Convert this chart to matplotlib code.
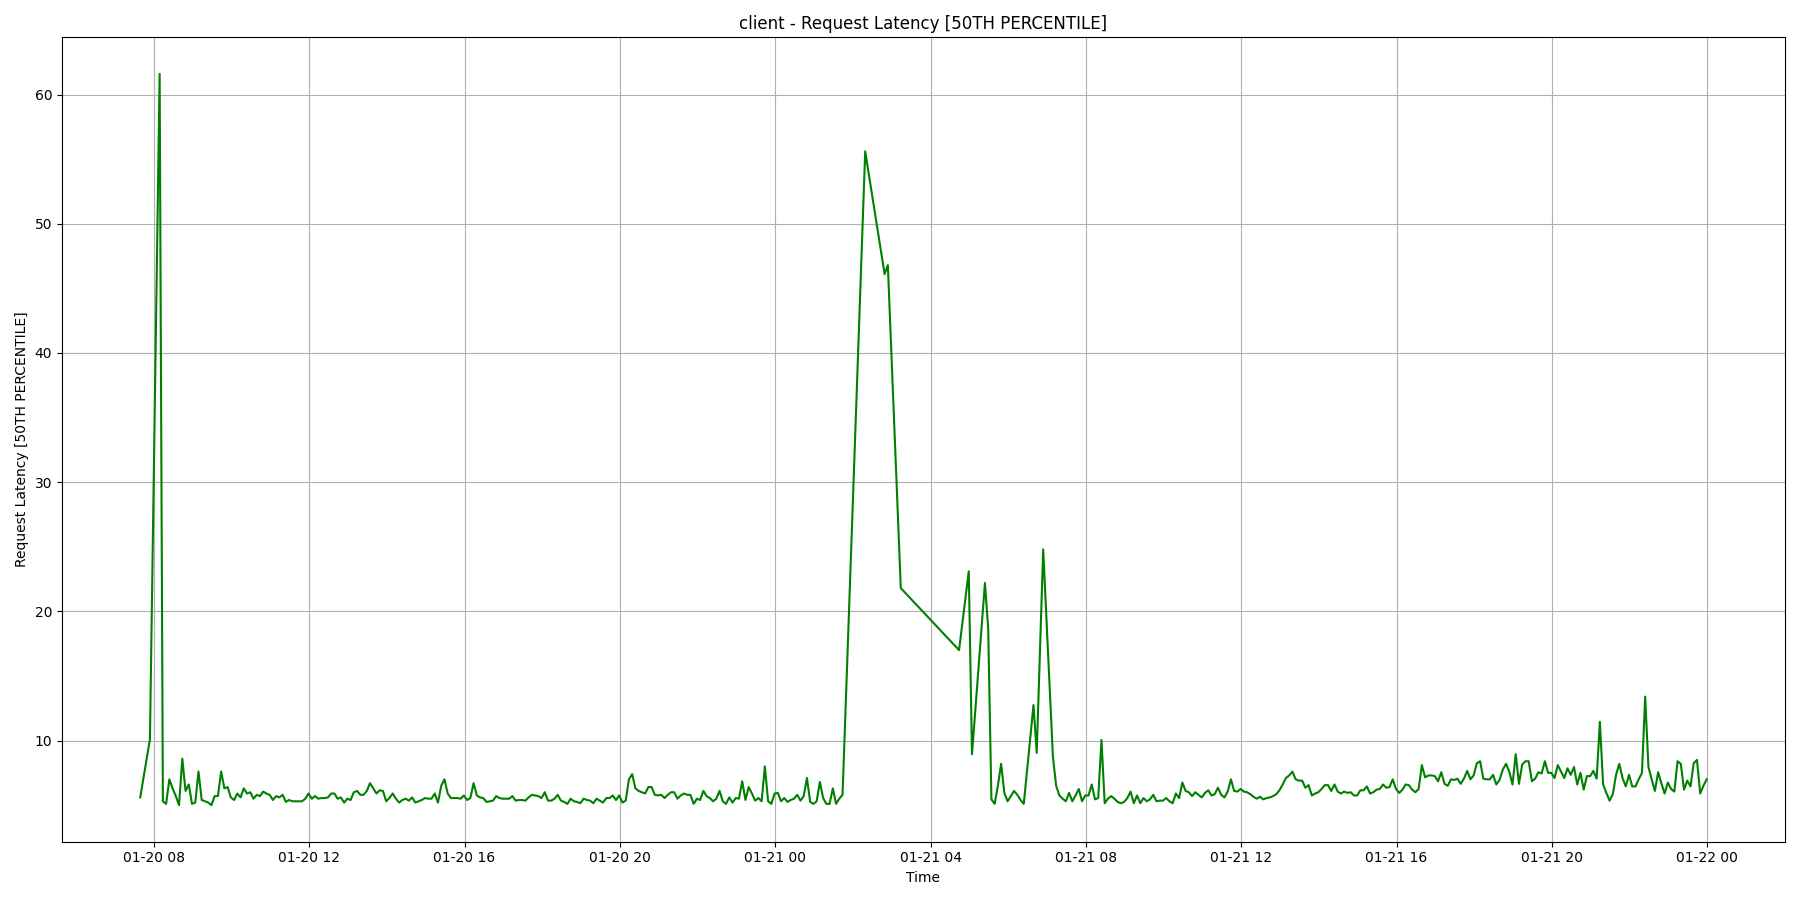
import datetime as dt

import matplotlib

matplotlib.use("Agg")
import matplotlib.dates as mdates
import matplotlib.pyplot as plt

# samples every 5 minutes starting 01-20 07:39; None = no sample (line bridges the gap)
START = dt.datetime(2024, 1, 20, 7, 39)
STEP_MIN = 5
NA = None

# 01-20 07:39 .. 23:59
latency_0120 = [
    5.6, NA, NA, 10.1, NA, NA, 61.6, 5.3, 5.1, 7.0,
    6.3, 5.7, 5.0, 8.6, 6.1, 6.6, 5.1, 5.2, 7.6, 5.4,
    5.3, 5.2, 5.0, 5.7, 5.7, 7.6, 6.3, 6.4, 5.6, 5.4,
    5.9, 5.6, 6.3, 5.9, 6.0, 5.5, 5.8, 5.7, 6.05, 5.9,
    5.8, 5.4, 5.7, 5.6, 5.8, 5.25, 5.4, 5.3, 5.3, 5.3,
    5.3, 5.5, 5.9, 5.5, 5.7, 5.5, 5.55, 5.55, 5.6, 5.9,
    5.9, 5.5, 5.6, 5.2, 5.5, 5.4, 6.0, 6.1, 5.8, 5.8,
    6.1, 6.7, 6.3, 5.9, 6.15, 6.1, 5.3, 5.55, 5.9, 5.5,
    5.2, 5.4, 5.5, 5.35, 5.6, 5.2, 5.3, 5.4, 5.55, 5.5,
    5.5, 5.9, 5.2, 6.5, 7.0, 5.9, 5.55, 5.55, 5.55, 5.5,
    5.75, 5.4, 5.55, 6.7, 5.75, 5.6, 5.55, 5.25, 5.3, 5.35,
    5.7, 5.55, 5.5, 5.5, 5.5, 5.7, 5.35, 5.4, 5.4, 5.35,
    5.6, 5.8, 5.75, 5.7, 5.55, 6.0, 5.35, 5.35, 5.5, 5.8,
    5.35, 5.25, 5.1, 5.5, 5.3, 5.25, 5.15, 5.5, 5.4, 5.35,
    5.15, 5.5, 5.35, 5.2, 5.55, 5.55, 5.75, 5.4, 5.75, 5.2,
    5.35, 7.0, 7.4, 6.3, 6.1, 6.0, 5.9, 6.4, 6.4, 5.8,
    5.75, 5.8, 5.55, 5.8, 6.0, 6.0, 5.5, 5.75, 5.9, 5.8,
    5.8, 5.1, 5.5, 5.4, 6.1, 5.7, 5.55, 5.3, 5.5, 6.1,
    5.3, 5.1, 5.6, 5.2, 5.55, 5.5, 6.85, 5.4, 6.4, 5.9,
    5.35, 5.55, 5.3, 8.0, 5.3, 5.1, 5.9,
]

# 01-21 00:04 .. 23:59
latency_0121 = [
    5.95, 5.3, 5.55,
    5.25, 5.4, 5.5, 5.8, 5.35, 5.7, 7.1, 5.25, 5.1, 5.3,
    6.8, 5.55, 5.1, 5.1, 6.3, 5.1, 5.5, 5.8, NA, NA,
    NA, NA, NA, NA, 55.6, NA, NA, NA, NA, NA,
    46.1, 46.8, NA, NA, NA, 21.8, NA, NA, NA, NA,
    NA, NA, NA, NA, NA, NA, NA, NA, NA, NA,
    NA, NA, NA, 17.0, NA, NA, 23.1, 8.95, NA, NA,
    NA, 22.2, 18.7, 5.45, 5.1, 6.5, 8.2, 5.95, 5.3, 5.7,
    6.1, 5.8, 5.4, 5.1, NA, NA, 12.75, 9.05, NA, 24.8,
    NA, NA, 8.75, 6.5, 5.75, 5.5, 5.3, 5.95, 5.3, 5.75,
    6.25, 5.3, 5.75, 5.75, 6.6, 5.45, 5.55, 10.05, 5.15, 5.5,
    5.7, 5.5, 5.25, 5.15, 5.25, 5.55, 6.05, 5.15, 5.75, 5.15,
    5.55, 5.3, 5.45, 5.8, 5.3, 5.35, 5.35, 5.55, 5.3, 5.15,
    5.9, 5.55, 6.75, 6.1, 6.0, 5.7, 6.0, 5.8, 5.6, 5.95,
    6.15, 5.75, 5.85, 6.35, 5.8, 5.6, 6.05, 7.0, 6.1, 6.05,
    6.25, 6.05, 6.0, 5.85, 5.65, 5.5, 5.65, 5.45, 5.55, 5.6,
    5.7, 5.85, 6.15, 6.6, 7.1, 7.3, 7.6, 7.0, 6.9, 6.9,
    6.35, 6.55, 5.75, 5.9, 6.0, 6.25, 6.55, 6.55, 6.1, 6.6,
    6.05, 5.9, 6.05, 5.95, 6.0, 5.75, 5.75, 6.15, 6.15, 6.45,
    5.9, 6.0, 6.2, 6.25, 6.6, 6.35, 6.4, 7.0, 6.25, 5.95,
    6.2, 6.6, 6.55, 6.2, 6.0, 6.25, 8.1, 7.15, 7.3, 7.3,
    7.25, 6.85, 7.55, 6.65, 6.5, 7.0, 6.95, 7.05, 6.65, 7.05,
    7.65, 7.0, 7.3, 8.25, 8.4, 7.05, 7.0, 7.0, 7.35, 6.6,
    6.95, 7.75, 8.2, 7.6, 6.6, 8.95, 6.65, 8.15, 8.4, 8.4,
    6.85, 7.05, 7.55, 7.45, 8.4, 7.5, 7.5, 7.1, 8.1, 7.6,
    7.1, 7.85, 7.35, 7.95, 6.6, 7.5, 6.2, 7.25, 7.25, 7.65,
    7.05, 11.45, 6.6, 5.95, 5.35, 5.85, 7.35, 8.2, 7.1, 6.45,
    7.35, 6.45, 6.45, 7.0, 7.5, 13.4, 7.95, 7.0, 6.1, 7.55,
    6.7, 5.9, 6.75, 6.25, 6.05, 8.4, 8.2, 6.2, 6.9, 6.45,
    8.25, 8.5, 5.9, 6.5, 7.0,
]

TITLE = "client - Request Latency [50TH PERCENTILE]"
YLABEL = "Request Latency [50TH PERCENTILE]"


def main() -> None:
    samples = latency_0120 + latency_0121
    times = []
    values = []
    for i, v in enumerate(samples):
        if v is None:
            continue
        times.append(START + dt.timedelta(minutes=STEP_MIN * i))
        values.append(v)

    fig, ax = plt.subplots(figsize=(18, 9))
    ax.plot(times, values, color="green", linewidth=1.5)
    ax.set_title(TITLE)
    ax.set_xlabel("Time")
    ax.set_ylabel(YLABEL)
    ax.grid(True)
    ax.xaxis.set_major_locator(mdates.HourLocator(byhour=range(0, 24, 4)))
    ax.xaxis.set_major_formatter(mdates.DateFormatter("%m-%d %H"))
    fig.tight_layout()
    fig.savefig("out.png", dpi=100)
    plt.close(fig)


if __name__ == "__main__":
    main()
